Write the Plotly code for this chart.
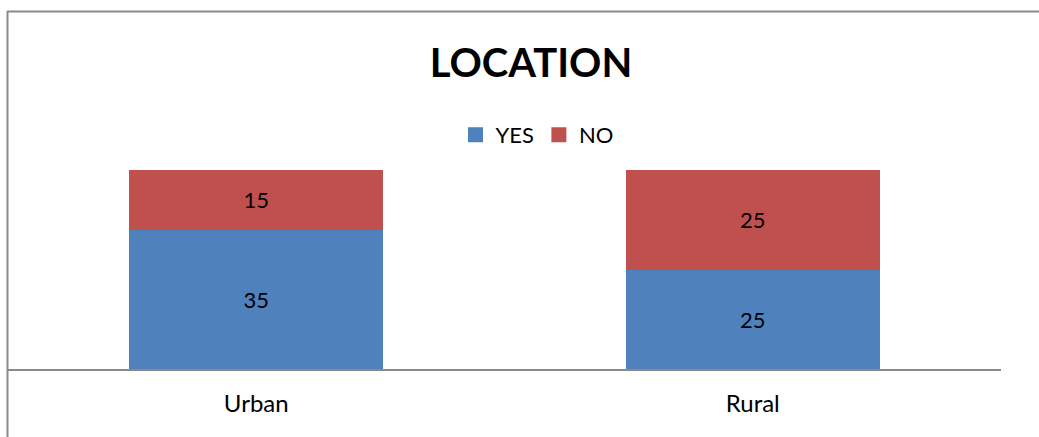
import plotly.graph_objects as go

# Survey answers by location
categories = ["Urban", "Rural"]
yes_values = [35, 25]
no_values = [15, 25]
series_colors = {"YES": "#4F81BD", "NO": "#C0504D"}

W, H = 1039, 437
L, R, T, B = 8, 38, 170, 68
plot_w = W - L - R
plot_h = H - T - B


def px_x(px):
    return (px - L) / plot_w


def px_y(py):
    return (H - B - py) / plot_h


FONT = "Lato, 'Open Sans', sans-serif"

fig = go.Figure()
for name, values in (("YES", yes_values), ("NO", no_values)):
    fig.add_trace(go.Bar(
        name=name, x=categories, y=values, showlegend=False,
        marker=dict(color=series_colors[name], line=dict(width=0)),
        text=[str(v) for v in values], textposition="inside",
        insidetextanchor="middle", textangle=0,
        textfont=dict(family=FONT, size=22, color="#000000"),
    ))

# Legend entries with larger square swatches
for name in ("YES", "NO"):
    fig.add_trace(go.Scatter(
        name=name, x=[categories[0]], y=[None], mode="markers",
        marker=dict(symbol="square", size=15, color=series_colors[name]),
        hoverinfo="skip",
    ))

# Chart frame (top and left edges)
frame = dict(color="#8A8A8A", width=2)
fig.add_shape(type="line", xref="paper", yref="paper",
              x0=px_x(7), x1=px_x(W + 2), y0=px_y(11.5), y1=px_y(11.5), line=frame)
fig.add_shape(type="line", xref="paper", yref="paper",
              x0=px_x(7.5), x1=px_x(7.5), y0=px_y(11), y1=px_y(H + 2), line=frame)

fig.update_layout(
    width=W, height=H,
    margin=dict(l=L, r=R, t=T, b=B, autoexpand=False),
    barmode="stack", bargap=0.488,
    paper_bgcolor="white", plot_bgcolor="white",
    showlegend=True,
    legend=dict(orientation="h", x=px_x(537), y=px_y(135), xanchor="center", yanchor="middle",
                font=dict(family=FONT, size=22, color="#000000"),
                itemwidth=30, itemsizing="trace", traceorder="normal"),
    title=dict(text="<b>LOCATION</b>", x=531 / W, y=1 - 63 / H, xanchor="center", yanchor="middle",
               xref="container", yref="container",
               font=dict(family=FONT, size=40, color="#000000")),
    xaxis=dict(showline=True, linecolor="#8A8A8A", linewidth=2, ticks="",
               ticklabelstandoff=12,
               tickfont=dict(family=FONT, size=24, color="#000000"), showgrid=False),
    yaxis=dict(range=[0, 50], visible=False, showgrid=False),
    uniformtext=dict(minsize=22, mode="show"),
)

fig.write_html("out.html")
